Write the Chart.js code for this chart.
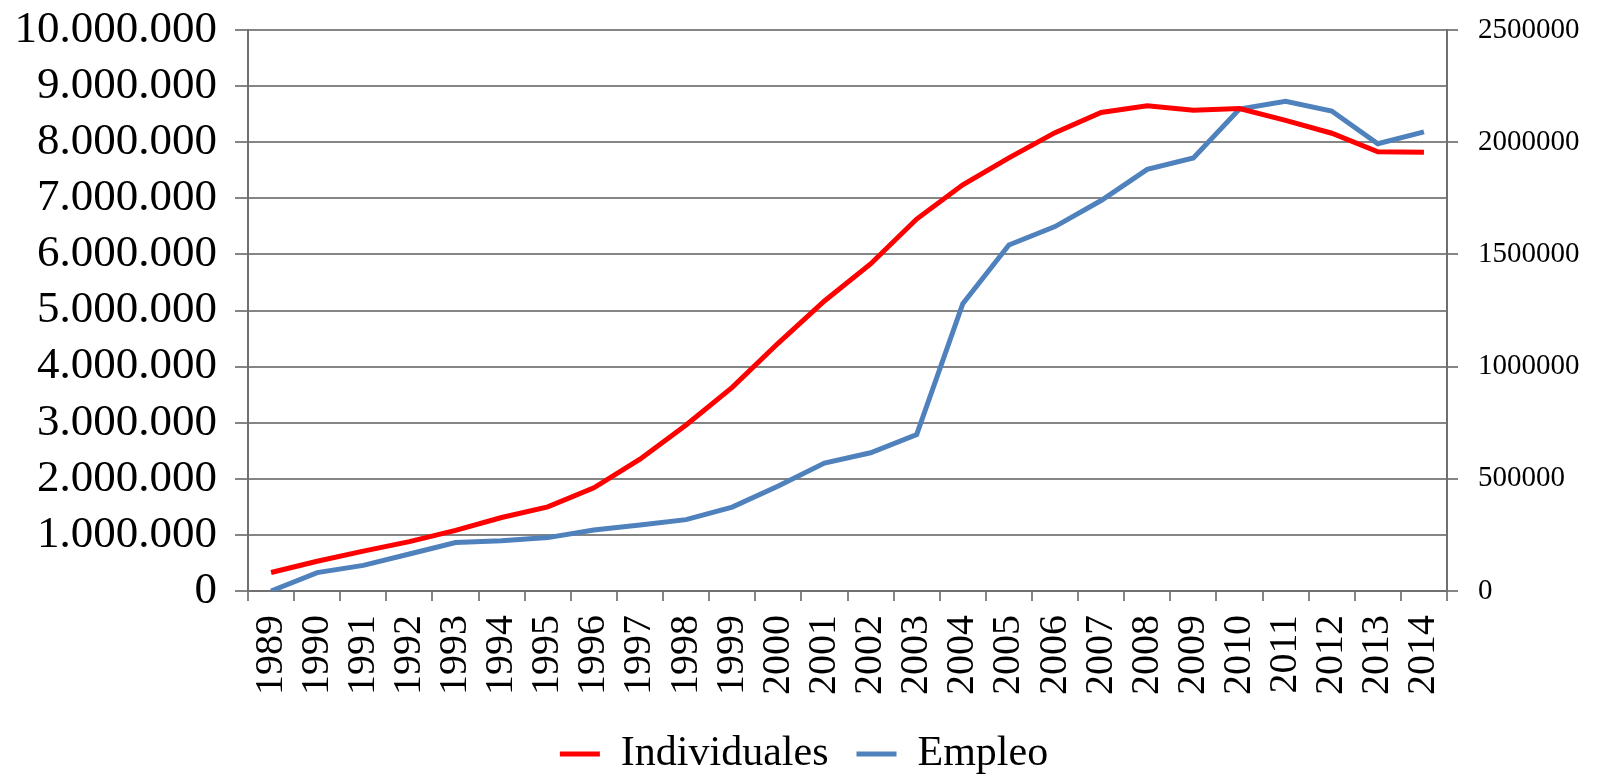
<!DOCTYPE html>
<html>
<head>
<meta charset="utf-8">
<script src="https://cdn.jsdelivr.net/npm/chart.js@4.4.1/dist/chart.umd.min.js"></script>
<style>
  html, body { margin: 0; padding: 0; background: #fff; }
  #wrap { width: 1608px; height: 779px; }
</style>
</head>
<body>
<div id="wrap"><canvas id="chart" width="1608" height="779"></canvas></div>
<script>
// years on the x axis
const years = ['1989','1990','1991','1992','1993','1994','1995','1996','1997','1998','1999','2000','2001',
  '2002','2003','2004','2005','2006','2007','2008','2009','2010','2011','2012','2013','2014'];

// left axis series
const individuales = [330000, 530000, 710000, 880000, 1080000, 1310000, 1500000, 1840000, 2350000, 2960000,
  3630000, 4420000, 5170000, 5830000, 6630000, 7240000, 7720000, 8170000, 8530000, 8650000,
  8570000, 8600000, 8390000, 8160000, 7830000, 7820000];

// right axis series
const empleo = [0, 82000, 114000, 165000, 216000, 224000, 238000, 272000, 294000, 318000,
  374000, 468000, 570000, 616000, 697000, 1280000, 1542000, 1624000, 1740000, 1879000,
  1930000, 2148000, 2182000, 2139000, 1993000, 2046000];

const leftTicks = { min: 0, max: 10000000, step: 1000000 };
const rightTicks = { min: 0, max: 2500000, step: 500000 };

const FONT = "'Liberation Serif', 'DejaVu Serif', serif";
const GRID = '#858585';
const AXIS = '#707070';

function withDots(v) {
  return String(v).replace(/\B(?=(\d{3})+(?!\d))/g, '.');
}

document.addEventListener('DOMContentLoaded', function () {
  const ctx = document.getElementById('chart').getContext('2d');
  new Chart(ctx, {
    type: 'line',
    data: {
      labels: years,
      datasets: [{
        label: 'Individuales',
        data: individuales,
        borderColor: '#ff0000',
        backgroundColor: '#ff0000',
        borderWidth: 5,
        pointRadius: 0,
        tension: 0,
        yAxisID: 'y'
      }, {
        label: 'Empleo',
        data: empleo,
        borderColor: '#4f81bd',
        backgroundColor: '#4f81bd',
        borderWidth: 5,
        pointRadius: 0,
        tension: 0,
        yAxisID: 'y2'
      }]
    },
    options: {
      responsive: false,
      animation: false,
      layout: { padding: { top: 30, left: 0, right: 0, bottom: -6 } },
      plugins: {
        tooltip: { enabled: false },
        legend: {
          position: 'bottom',
          labels: {
            color: '#000',
            font: { family: FONT, size: 42 },
            boxWidth: 40,
            boxHeight: 5,
            padding: 28,
            generateLabels: function (chart) {
              return chart.data.datasets.map((ds, i) => ({
                text: ds.label,
                fillStyle: ds.borderColor,
                strokeStyle: ds.borderColor,
                lineWidth: 0,
                fontColor: '#000',
                datasetIndex: i
              }));
            }
          }
        }
      },
      scales: {
        x: {
          offset: true,
          grid: {
            offset: true,
            drawOnChartArea: false,
            color: GRID,
            lineWidth: 2,
            tickLength: 10
          },
          border: { color: AXIS, width: 2 },
          ticks: {
            color: '#000',
            font: { family: FONT, size: 40 },
            minRotation: 90,
            maxRotation: 90,
            padding: 14,
            autoSkip: false
          },
          afterFit: function (scale) { scale.height = 114; }
        },
        y: {
          position: 'left',
          min: leftTicks.min,
          max: leftTicks.max,
          grid: { color: GRID, lineWidth: 2, tickLength: 13 },
          border: { color: AXIS, width: 2 },
          ticks: {
            stepSize: leftTicks.step,
            autoSkip: false,
            color: '#000',
            font: { family: FONT, size: 45, lineHeight: 0.5 },
            padding: 18,
            callback: v => withDots(v)
          },
          afterFit: function (scale) { scale.width = 248; }
        },
        y2: {
          position: 'right',
          min: rightTicks.min,
          max: rightTicks.max,
          grid: { drawOnChartArea: false, color: GRID, lineWidth: 2, tickLength: 11 },
          border: { color: AXIS, width: 2 },
          ticks: {
            stepSize: rightTicks.step,
            autoSkip: false,
            color: '#000',
            font: { family: FONT, size: 29, lineHeight: 0.6 },
            padding: 20,
            callback: v => String(v)
          },
          afterFit: function (scale) { scale.width = 161; }
        }
      }
    }
  });
});
</script>
</body>
</html>
